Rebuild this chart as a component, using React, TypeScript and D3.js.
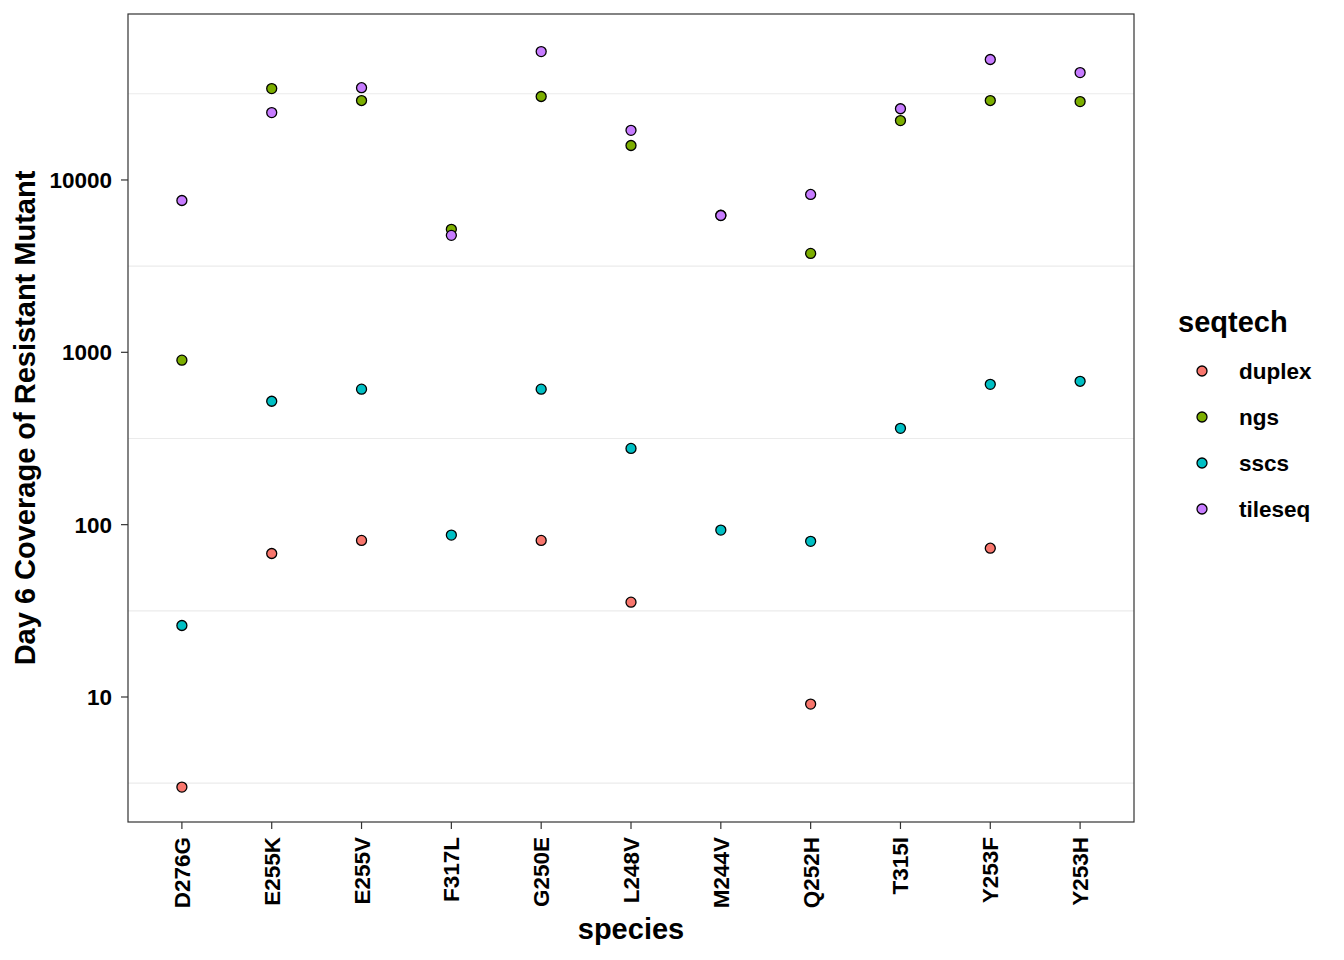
import React from "react";
import * as d3 from "d3";

const species = ["D276G", "E255K", "E255V", "F317L", "G250E", "L248V", "M244V", "Q252H", "T315I", "Y253F", "Y253H"];
const seqtechs = ["duplex", "ngs", "sscs", "tileseq"];
const colors = ["#F8766D", "#7CAE00", "#00BFC4", "#C77CFF"];

// values per species (null = missing)
const duplexValues = [3, 68, 81, null, 81, 35.5, null, 9.1, null, 73, null];
const ngsValues = [900, 33900, 28900, 5170, 30500, 15850, 6250, 3750, 22100, 28900, 28500];
const sscsValues = [26, 520, 611, 87, 611, 277, 93, 80, 362, 652, 679];
const tileseqValues = [7600, 24600, 34300, 4770, 55600, 19400, 6220, 8240, 25900, 50000, 42000];

const yTicks = [10, 100, 1000, 10000];
const yTickLabels = ["10", "100", "1000", "10000"];
const yMinor = [Math.sqrt(10), Math.sqrt(1000), Math.sqrt(100000), Math.sqrt(1e7), Math.sqrt(1e9)];

const W = 1344, H = 960;
const panel = { left: 128, right: 1134, top: 14, bottom: 822 };
const FONT = "'Liberation Sans', Arial, Helvetica, sans-serif";

export default function App() {
  const x = d3.scalePoint<string>().domain(species).range([panel.left, panel.right]).padding(0.6);
  const y = d3.scaleLog().domain([Math.pow(10, 0.2747), Math.pow(10, 4.963)]).range([panel.bottom, panel.top]);

  const series = [duplexValues, ngsValues, sscsValues, tileseqValues];
  const points: { sx: string; v: number; c: string; k: string }[] = [];
  series.forEach((vals, si) => {
    vals.forEach((v, i) => {
      if (v != null) points.push({ sx: species[i], v, c: colors[si], k: `${si}-${i}` });
    });
  });

  const cy = (panel.top + panel.bottom) / 2;
  const cx = (panel.left + panel.right) / 2;

  return (
    <svg width={W} height={H} style={{ position: "absolute", left: 0, top: 0, background: "#fff" }} fontFamily={FONT}>
      <rect x={0} y={0} width={W} height={H} fill="#fff" />
      {yMinor.map((v, i) => (
        <line key={i} x1={panel.left} x2={panel.right} y1={y(v)} y2={y(v)} stroke="#EBEBEB" strokeWidth={1.1} />
      ))}
      {points.map((p) => (
        <circle key={p.k} cx={x(p.sx)} cy={y(p.v)} r={5} fill={p.c} stroke="#000" strokeWidth={1.3} />
      ))}
      <rect x={panel.left} y={panel.top} width={panel.right - panel.left} height={panel.bottom - panel.top} fill="none" stroke="#333" strokeWidth={1.2} />
      {yTicks.map((t, i) => (
        <g key={t}>
          <line x1={panel.left - 7} x2={panel.left} y1={y(t)} y2={y(t)} stroke="#333" strokeWidth={1.2} />
          <text x={panel.left - 16} y={y(t)} dy="0.36em" textAnchor="end" fontSize={22.5} fontWeight="bold" fill="#000">{yTickLabels[i]}</text>
        </g>
      ))}
      {species.map((s) => (
        <g key={s}>
          <line x1={x(s)} x2={x(s)} y1={panel.bottom} y2={panel.bottom + 7} stroke="#333" strokeWidth={1.2} />
          <text transform={`translate(${x(s)! + 8},${panel.bottom + 15}) rotate(-90)`} textAnchor="end" fontSize={22.5} fontWeight="bold" fill="#000">{s}</text>
        </g>
      ))}
      <text x={cx} y={939} textAnchor="middle" fontSize={29} fontWeight="bold" fill="#000">species</text>
      <text transform={`translate(35,${cy}) rotate(-90)`} textAnchor="middle" fontSize={29} fontWeight="bold" fill="#000">Day 6 Coverage of Resistant Mutant</text>
      <text x={1178} y={332} fontSize={29} fontWeight="bold" fill="#000">seqtech</text>
      {seqtechs.map((s, i) => (
        <g key={s}>
          <circle cx={1202} cy={371 + 46 * i} r={5} fill={colors[i]} stroke="#000" strokeWidth={1.3} />
          <text x={1239} y={371 + 46 * i} dy="0.36em" fontSize={22.5} fontWeight="bold" fill="#000">{s}</text>
        </g>
      ))}
    </svg>
  );
}
